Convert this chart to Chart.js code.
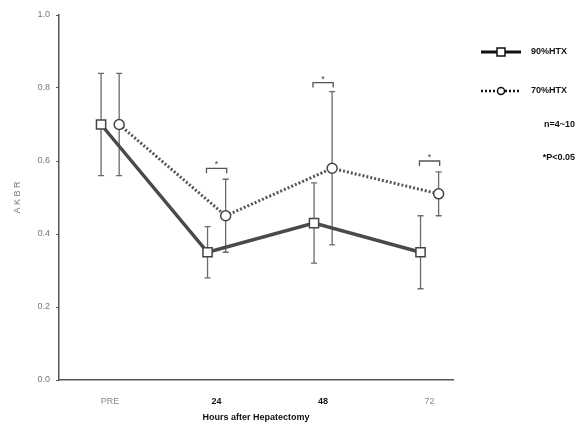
<!DOCTYPE html>
<html lang="en">
<head>
<meta charset="UTF-8">
<title>AKBR after Hepatectomy</title>
<script src="https://cdn.jsdelivr.net/npm/chart.js"></script>
<style>
  body { margin: 0; background: #fff; }
  #wrap { width: 579px; height: 423px; }
</style>
</head>
<body>
<div id="wrap"><canvas id="akbrChart" width="579" height="423"></canvas></div>
<script>
// data
const categories = ['PRE', '24', '48', '72'];
const seriesNames = ['90%HTX', '70%HTX'];
const htx90 = [0.70, 0.35, 0.43, 0.35];
const htx90Low = [0.56, 0.28, 0.32, 0.25];
const htx90High = [0.84, 0.42, 0.54, 0.45];
const htx70 = [0.70, 0.45, 0.58, 0.51];
const htx70Low = [0.56, 0.35, 0.37, 0.45];
const htx70High = [0.84, 0.55, 0.79, 0.57];
const sigIndex = [1, 2, 3];          // time points marked with *
const sigLevel = [0.58, 0.815, 0.60]; // bracket height
const yTicks = [0, 0.2, 0.4, 0.6, 0.8, 1.0];
const notes = ['n=4~10', '*P<0.05'];

const offset = 0.085;
const grey = '#6a6a6a';
const font = 'Liberation Sans, Arial, sans-serif';

function pts(vals, shift) {
  return vals.map((v, i) => ({ x: i + shift, y: v }));
}

// error bars + significance brackets + right-hand legend
const annotations = {
  id: 'annotations',
  beforeDatasetsDraw(chart) {
    const { ctx, scales: { x, y } } = chart;
    ctx.save();
    ctx.strokeStyle = grey;
    ctx.lineWidth = 1.3;
    const bars = [[htx90Low, htx90High, -offset], [htx70Low, htx70High, offset]];
    bars.forEach(([lo, hi, shift]) => {
      lo.forEach((l, i) => {
        const px = x.getPixelForValue(i + shift);
        const y1 = y.getPixelForValue(l), y2 = y.getPixelForValue(hi[i]);
        ctx.beginPath();
        ctx.moveTo(px, y1); ctx.lineTo(px, y2);
        ctx.moveTo(px - 3, y1); ctx.lineTo(px + 3, y1);
        ctx.moveTo(px - 3, y2); ctx.lineTo(px + 3, y2);
        ctx.stroke();
      });
    });
    ctx.strokeStyle = '#555';
    ctx.fillStyle = '#444';
    ctx.font = '9px ' + font;
    ctx.textAlign = 'center';
    sigIndex.forEach((idx, k) => {
      const xa = x.getPixelForValue(idx - offset - 0.01);
      const xb = x.getPixelForValue(idx + offset + 0.01);
      const py = y.getPixelForValue(sigLevel[k]);
      ctx.beginPath();
      ctx.moveTo(xa, py + 5); ctx.lineTo(xa, py); ctx.lineTo(xb, py); ctx.lineTo(xb, py + 5);
      ctx.stroke();
      ctx.fillText('*', (xa + xb) / 2, py - 1);
    });
    ctx.restore();
  },
  afterDraw(chart) {
    const { ctx } = chart;
    ctx.save();
    const rows = [52, 91];
    chart.data.datasets.forEach((ds, i) => {
      const yy = rows[i];
      ctx.strokeStyle = '#111';
      ctx.lineWidth = i === 0 ? 3 : 2.5;
      ctx.setLineDash(i === 0 ? [] : [2, 2]);
      ctx.beginPath(); ctx.moveTo(481, yy); ctx.lineTo(521, yy); ctx.stroke();
      ctx.setLineDash([]);
      ctx.fillStyle = '#fff';
      ctx.lineWidth = 1.5;
      ctx.beginPath();
      if (i === 0) ctx.rect(497, yy - 4, 8, 8);
      else ctx.arc(501, yy, 3.5, 0, Math.PI * 2);
      ctx.fill(); ctx.stroke();
      ctx.fillStyle = '#111';
      ctx.font = 'bold 9px ' + font;
      ctx.textAlign = 'left';
      ctx.textBaseline = 'middle';
      ctx.fillText(ds.label, 531, yy);
    });
    ctx.textAlign = 'right';
    ctx.fillText(notes[0], 575, 125);
    ctx.fillText(notes[1], 575, 158);
    ctx.restore();
  }
};

new Chart(document.getElementById('akbrChart'), {
  type: 'line',
  data: {
    datasets: [
      {
        label: seriesNames[0],
        data: pts(htx90, -offset),
        borderColor: '#4a4a4a',
        borderWidth: 3.5,
        pointStyle: 'rect',
        pointRadius: 6.5,
        pointBackgroundColor: '#fff',
        pointBorderColor: '#444',
        pointBorderWidth: 1.5
      },
      {
        label: seriesNames[1],
        data: pts(htx70, offset),
        borderColor: '#555',
        borderWidth: 3,
        borderDash: [2, 2],
        pointStyle: 'circle',
        pointRadius: 5,
        pointBackgroundColor: '#fff',
        pointBorderColor: '#444',
        pointBorderWidth: 1.5
      }
    ]
  },
  options: {
    responsive: false,
    animation: false,
    layout: { padding: { top: 15, right: 126, left: 0, bottom: 0 } },
    plugins: { legend: { display: false }, tooltip: { enabled: false } },
    scales: {
      x: {
        type: 'linear',
        min: -0.48,
        max: 3.22,
        afterBuildTicks: s => { s.ticks = categories.map((c, i) => ({ value: i })); },
        afterFit: s => { s.height = 43; },
        grid: { display: false },
        border: { color: '#555', width: 1.5 },
        ticks: {
          padding: 8,
          callback: v => categories[v],
          color: c => (c.index === 1 || c.index === 2) ? '#111' : '#888',
          font: c => ({ family: font, size: 9, weight: (c.index === 1 || c.index === 2) ? 'bold' : 'normal' })
        },
        title: {
          display: true,
          text: 'Hours after Hepatectomy',
          color: '#111',
          font: { family: font, size: 9, weight: 'bold' },
          padding: { top: 10, bottom: 0 }
        }
      },
      y: {
        min: 0,
        max: 1.0,
        afterBuildTicks: s => { s.ticks = yTicks.map(v => ({ value: v })); },
        afterFit: s => { s.width = 59; },
        grid: { drawOnChartArea: false, tickLength: 3, color: '#555' },
        border: { color: '#555', width: 1.5 },
        ticks: {
          padding: 6,
          color: '#777',
          font: { family: font, size: 9 },
          callback: v => v.toFixed(1)
        },
        title: {
          display: true,
          text: 'A K B R',
          color: '#777',
          font: { family: font, size: 9 },
          padding: { top: 12, bottom: 0 }
        }
      }
    }
  },
  plugins: [annotations]
});
</script>
</body>
</html>
